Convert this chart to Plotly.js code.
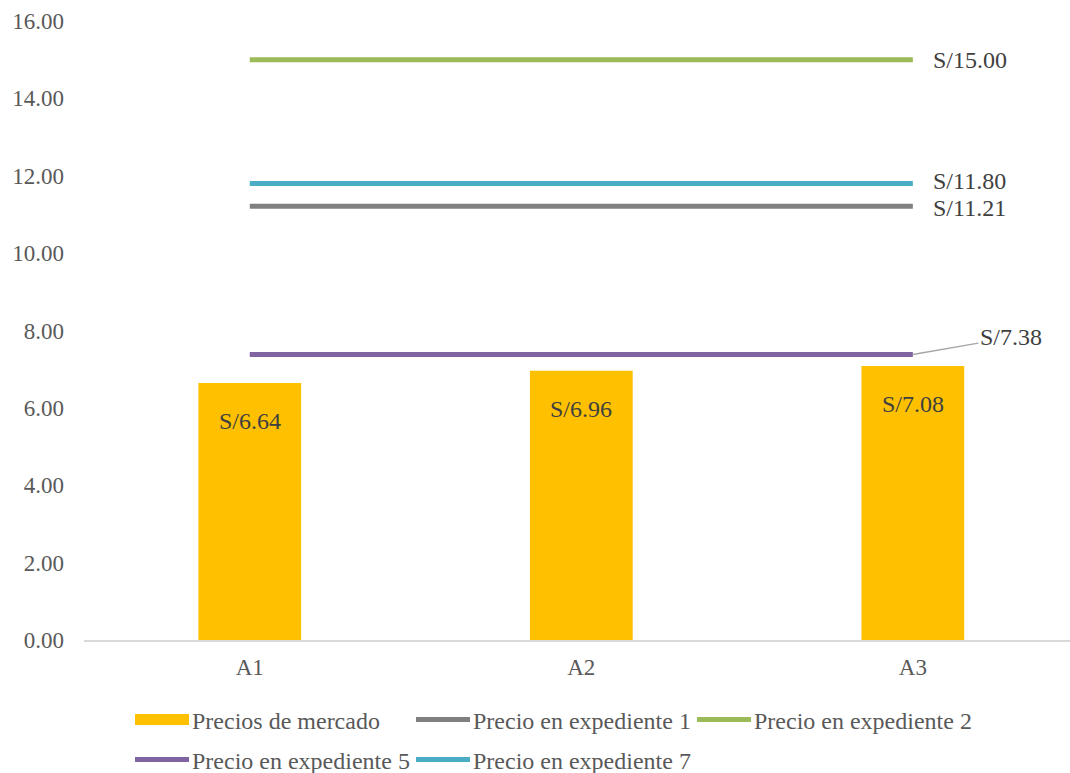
<!DOCTYPE html>
<html>
<head>
<meta charset="utf-8">
<script src="https://cdn.plot.ly/plotly-3.0.1.min.js"></script>
<style>html,body{margin:0;padding:0;background:#fff;}#chart{width:1070px;height:773px;}</style>
</head>
<body>
<div id="chart"></div>
<script>
const categories = ["A1", "A2", "A3"];
const marketPrices = [6.64, 6.96, 7.08];
const exp1 = [11.21, 11.21, 11.21];
const exp2 = [15.00, 15.00, 15.00];
const exp5 = [7.38, 7.38, 7.38];
const exp7 = [11.80, 11.80, 11.80];
const yTicks = [0, 2, 4, 6, 8, 10, 12, 14, 16];

const FONT = "Liberation Serif";
const fmt = v => "S/" + v.toFixed(2);

function lineTrace(name, vals, color, legendId) {
  return {
    type: "scatter", mode: "lines", name: name, x: categories, y: vals,
    line: {color: color, width: 5}, legend: legendId, hoverinfo: "skip"
  };
}

const traces = [
  {type: "bar", name: "Precios de mercado", x: categories, y: marketPrices,
   marker: {color: "#FFC000"}, hoverinfo: "skip", legend: "legend"},
  lineTrace("Precio en expediente 1", exp1, "#808080", "legend"),
  lineTrace("Precio en expediente 2", exp2, "#9BBB59", "legend"),
  lineTrace("Precio en expediente 5", exp5, "#8064A2", "legend2"),
  lineTrace("Precio en expediente 7", exp7, "#4BACC6", "legend2")
];

const labelFont = {family: FONT, size: 24, color: "#404040"};
const annotations = marketPrices.map((v, i) => ({
  x: categories[i], y: v, xref: "x", yref: "y", text: fmt(v),
  showarrow: false, yshift: -38, font: labelFont
}));
[[exp2, 0], [exp7, 2], [exp1, -2]].forEach(([arr, shift]) => {
  annotations.push({
    x: categories[2], y: arr[2], xref: "x", yref: "y", text: fmt(arr[2]),
    showarrow: false, xanchor: "left", xshift: 18, yshift: shift, font: labelFont
  });
});
annotations.push({
  x: categories[2], y: exp5[2], xref: "x", yref: "y", text: fmt(exp5[2]),
  showarrow: true, arrowhead: 0, arrowwidth: 1.5, arrowcolor: "#A6A6A6",
  ax: 98, ay: -17, standoff: 0, font: labelFont
});

const legendBase = {
  orientation: "h", xref: "container", yref: "container",
  xanchor: "left", yanchor: "middle",
  font: {family: FONT, size: 24, color: "#595959"},
  traceorder: "normal", itemwidth: 52, entrywidth: 214, entrywidthmode: "pixels",
  bgcolor: "rgba(0,0,0,0)", borderwidth: 0
};

const layout = {
  width: 1070, height: 773,
  margin: {l: 84, r: 0, t: 21, b: 133},
  paper_bgcolor: "#fff", plot_bgcolor: "#fff",
  font: {family: FONT, size: 24, color: "#595959"},
  bargap: 0.69,
  showlegend: true,
  legend: Object.assign({}, legendBase, {x: 130 / 1070, y: (773 - 720) / 773}),
  legend2: Object.assign({}, legendBase, {x: 130 / 1070, y: (773 - 760) / 773}),
  xaxis: {type: "category", range: [-0.5, 2.474], showgrid: false,
          showline: true, linecolor: "#D9D9D9", linewidth: 1.5, ticks: "",
          ticklabelstandoff: 6,
          tickfont: {family: FONT, size: 23, color: "#595959"}, fixedrange: true},
  yaxis: {range: [0, 16], tickvals: yTicks, ticktext: yTicks.map(v => v.toFixed(2)),
          showgrid: false, zeroline: false, showline: false, ticks: "",
          ticklabelstandoff: 19,
          tickfont: {family: FONT, size: 23, color: "#595959"}, fixedrange: true},
  annotations: annotations
};

const gd = document.getElementById("chart");
Plotly.newPlot(gd, traces, layout, {displayModeBar: false, staticPlot: true}).then(() => {
  // widen legend symbols to resemble the reference's long keys
  gd.querySelectorAll("g.traces").forEach(tr => {
    const tm = tr.getCTM();
    tr.querySelectorAll("path.js-line").forEach(p => {
      const dx = p.getCTM().e - tm.e;
      p.setAttribute("d", "M" + (5 - dx) + ",0h54");
    });
    tr.querySelectorAll("path.legendbar, g.legendpoints path").forEach(p => {
      if (p.classList.contains("js-line")) return;
      const dx = p.getCTM().e - tm.e;
      p.setAttribute("d", "M" + (5 - dx) + ",-5.5h54v11h-54Z");
    });
  });
});
</script>
</body>
</html>
